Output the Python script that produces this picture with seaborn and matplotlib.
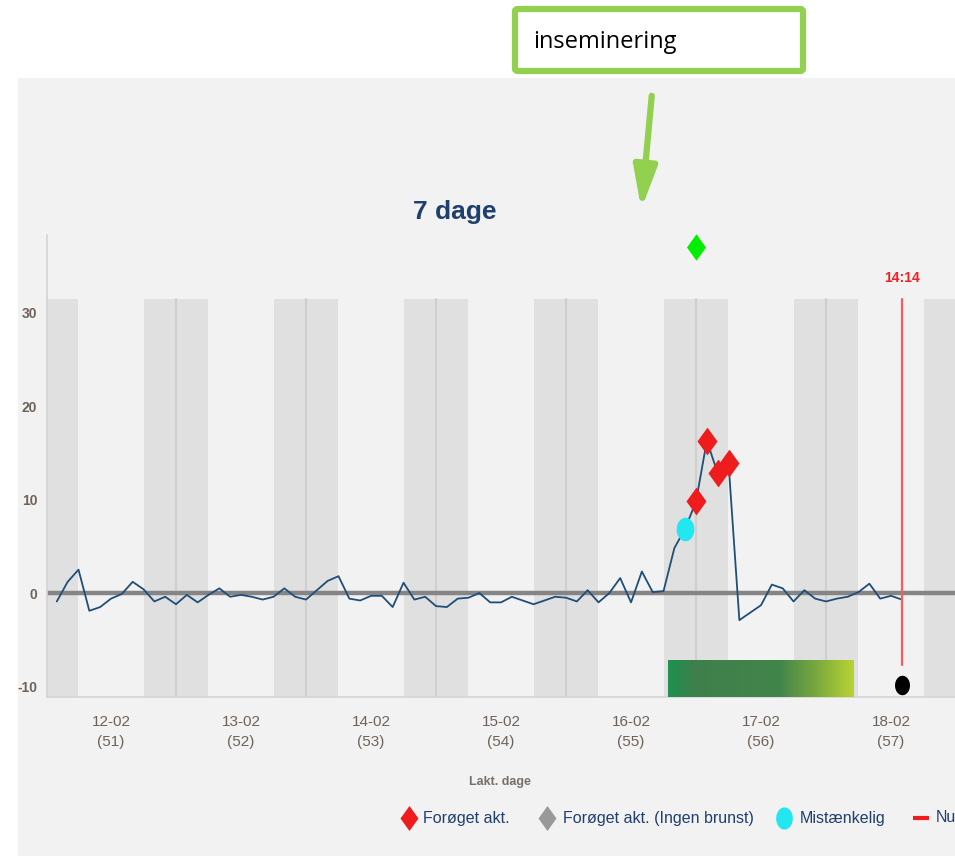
import numpy as np
import pandas as pd
import matplotlib
matplotlib.use("Agg")
import matplotlib.pyplot as plt
import seaborn as sns
from matplotlib.patches import Rectangle, FancyBboxPatch, FancyArrowPatch
from matplotlib.lines import Line2D
from matplotlib.path import Path
from matplotlib.colors import LinearSegmentedColormap

# data: activity every 2 hours, hours counted from 12-02
hours = np.arange(-10, 148, 2)
activity = [-0.9, 1.2, 2.5, -1.9, -1.5, -0.6, -0.1, 1.2, 0.4, -0.9,
            -0.4, -1.2, -0.2, -1.0, -0.2, 0.5, -0.4, -0.2, -0.4, -0.7,
            -0.4, 0.5, -0.4, -0.7, 0.3, 1.3, 1.8, -0.6, -0.8, -0.3,
            -0.3, -1.5, 1.1, -0.7, -0.4, -1.4, -1.5, -0.6, -0.5, 0.0,
            -1.0, -1.0, -0.4, -0.8, -1.2, -0.8, -0.4, -0.5, -0.9, 0.3,
            -1.0, 0.0, 1.6, -1.0, 2.3, 0.1, 0.2, 4.8, 6.9, 9.8,
            16.3, 12.8, 13.9, -2.9, -2.1, -1.3, 0.9, 0.5, -0.9, 0.3,
            -0.6, -0.9, -0.6, -0.4, 0.1, 1.0, -0.6, -0.3, -0.7]
increased_hours = [108, 110, 112, 114]
suspicious_hours = [106]
insemination_hour = 108
insemination_y = 37
now_hour = 146
now_label = "14:14"
day_labels = ["12-02\n(51)", "13-02\n(52)", "14-02\n(53)", "15-02\n(54)",
              "16-02\n(55)", "17-02\n(56)", "18-02\n(57)"]
night_days = [-1, 0, 1, 2, 3, 4, 5, 6]
heat_start, heat_end = 4.285, 5.715
heat_colors = ["#1e9150", "#3f7f4c", "#42854a", "#7aa83e", "#b8d432"]
heat_stops = [0.0, 0.15, 0.6, 0.8, 1.0]
legend_labels = ["Forøget akt.", "Forøget akt. (Ingen brunst)", "Mistænkelig", "Nu"]

df = pd.DataFrame({"day": hours / 24, "activity": activity})

# marker shapes: wide diamond and tall ellipse
diamond = Path([(0, 1), (0.72, 0), (0, -1), (-0.72, 0), (0, 1)])
ang = np.linspace(0, 2 * np.pi, 40)
ellipse = Path(np.column_stack([0.75 * np.cos(ang), np.sin(ang)]))

sns.set_style("white", {"axes.facecolor": "#f2f2f2"})
plt.rcParams["font.family"] = ["Liberation Sans", "DejaVu Sans"]

fig = plt.figure(figsize=(9.55, 8.56), dpi=100)
fig.patch.set_facecolor("white")
fig.patches.append(Rectangle((18 / 955, 0), 1, 1 - 78 / 856, transform=fig.transFigure,
                             facecolor="#f2f2f2", edgecolor="none", zorder=-5))

ax = fig.add_axes([47 / 955, 1 - 697 / 856, 1 - 47 / 955, (697 - 235) / 856])
ax.set_zorder(1)

# night bands
for d in night_days:
    ax.add_patch(Rectangle((d + 0.5 - 0.246, -11.12), 0.492, 11.12 + 31.4,
                           facecolor="#e0e0e0", edgecolor="none", zorder=1))
    ax.plot([d + 0.5, d + 0.5], [-11.12, 31.4], color="#cfcfcf", lw=1.5, zorder=1.2)

ax.axhline(0, color="#858585", lw=3.2, zorder=2)

sns.lineplot(data=df, x="day", y="activity", ax=ax, color="#1f4e79", lw=1.3, zorder=3)

inc = df[df.index.isin([list(hours).index(h) for h in increased_hours])]
sus = df[df.index.isin([list(hours).index(h) for h in suspicious_hours])]
ax.plot(sus["day"], sus["activity"], marker=ellipse, ls="none", color="#22e6f0", ms=17,
        mec="none", zorder=4)
ax.plot(inc["day"], inc["activity"], marker=diamond, ls="none", color="#ee1c1c", ms=20,
        mec="none", zorder=5)
ax.plot([insemination_hour / 24], [insemination_y], marker=diamond, ls="none",
        color="#00ee00", ms=19, mec="none", clip_on=False, zorder=5)

# heat probability bar
cmap = LinearSegmentedColormap.from_list("heat", list(zip(heat_stops, heat_colors)))
ax.imshow(np.linspace(0, 1, 256)[None, :], cmap=cmap, aspect="auto",
          extent=[heat_start, heat_end, -11.12, -7.17], zorder=3)
ax.set_xlim(-0.4923, 6.492)
ax.set_ylim(-11.12, 38.29)

# now marker
ax.plot([now_hour / 24, now_hour / 24], [-7.7, 31.4], color="#ff5a5a", lw=1.6, zorder=4)
ax.text(now_hour / 24, 33.7, now_label, color="#ee2222", fontsize=10, fontweight="bold",
        ha="center", va="center")
ax.plot([now_hour / 24], [-9.8], marker=ellipse, ls="none", color="black", ms=13, zorder=5)

sns.despine(ax=ax, right=True, top=True)
for s in ["left", "bottom"]:
    ax.spines[s].set_color("#d4d4d4")
    ax.spines[s].set_linewidth(1.2)
ax.set_xticks(range(len(day_labels)))
ax.set_xticklabels(day_labels, fontsize=11, color="#6e6358", linespacing=1.5)
ax.set_yticks([-10, 0, 10, 20, 30])
ax.set_yticklabels(["-10", "0", "10", "20", "30"], fontsize=10, color="#6e6358",
                   fontweight="bold")
ax.tick_params(axis="both", length=5, color="#cccccc", pad=8)
ax.tick_params(axis="y", pad=2)
ax.set_xlabel("")
ax.set_ylabel("")

fig.text(455 / 955, 1 - 212 / 856, "7 dage", fontsize=19, fontweight="bold",
         color="#1f3f6e", ha="center", va="center")
fig.text(500 / 955, 1 - 782 / 856, "Lakt. dage", fontsize=9, fontweight="bold",
         color="#77706a", ha="center", va="center")

# legend
leg_y = 1 - 818 / 856
items = [(diamond, "#ee1c1c", 409, 423), (diamond, "#999999", 547, 563),
         (ellipse, "#22e6f0", 784, 800), ("_", "#ee1c1c", 921, 936)]
for (m, c, mx, tx), lab in zip(items, legend_labels):
    fig.add_artist(Line2D([mx / 955], [leg_y], marker=m, color=c,
                          ms=18 if m is not ellipse else 16,
                          mew=3 if m == "_" else 0, linestyle="none"))
    if m == "_":
        fig.artists[-1].set_markersize(12)
    fig.text(tx / 955, leg_y, lab, fontsize=11.5, color="#1f3f6e", ha="left", va="center")

# annotation box and arrow
fig.patches.append(FancyBboxPatch((515 / 955, 1 - 71 / 856), 288 / 955, 62 / 856,
                                  boxstyle="round,pad=0,rounding_size=0.003",
                                  transform=fig.transFigure, facecolor="white",
                                  edgecolor="#92d050", lw=4.5))
fig.text(533 / 955, 1 - 42 / 856, "inseminering", fontsize=17, family="Open Sans",
         color="black", ha="left", va="center")
fig.patches.append(FancyArrowPatch((652 / 955, 1 - 93 / 856), (641 / 955, 1 - 212 / 856),
                                   transform=fig.transFigure,
                                   arrowstyle="-|>,head_length=1.8,head_width=0.5",
                                   mutation_scale=14, color="#92d050", lw=4.5))

fig.savefig("out.png", dpi=100)
